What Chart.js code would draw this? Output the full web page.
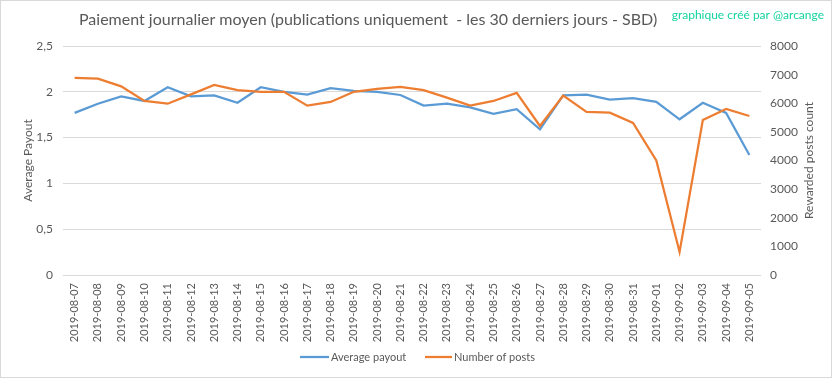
<!DOCTYPE html>
<html><head><meta charset="utf-8">
<script src="https://cdn.jsdelivr.net/npm/chart.js@4.4.0/dist/chart.umd.min.js"></script>
<style>html,body{margin:0;padding:0;background:#fff;}#wrap{position:relative;width:833px;height:379px;}</style>
</head><body><div id="wrap"><canvas id="c" width="833" height="379"></canvas></div>
<script>
const categories = ['2019-08-07','2019-08-08','2019-08-09','2019-08-10','2019-08-11','2019-08-12','2019-08-13','2019-08-14','2019-08-15','2019-08-16','2019-08-17','2019-08-18','2019-08-19','2019-08-20','2019-08-21','2019-08-22','2019-08-23','2019-08-24','2019-08-25','2019-08-26','2019-08-27','2019-08-28','2019-08-29','2019-08-30','2019-08-31','2019-09-01','2019-09-02','2019-09-03','2019-09-04','2019-09-05'];
const averagePayout = [1.77,1.87,1.95,1.90,2.05,1.95,1.96,1.88,2.05,2.00,1.97,2.04,2.01,2.00,1.965,1.85,1.87,1.83,1.76,1.81,1.59,1.96,1.97,1.915,1.93,1.89,1.70,1.88,1.77,1.31];
const numberOfPosts = [6890,6860,6590,6080,5985,6310,6640,6460,6400,6400,5915,6045,6400,6500,6575,6460,6195,5915,6080,6360,5205,6265,5695,5670,5310,4005,805,5415,5800,5555];
const seriesNames = ['Average payout','Number of posts'];
const chartTitle = 'Paiement journalier moyen (publications uniquement  - les 30 derniers jours - SBD)';
const watermark = 'graphique créé par @arcange';
const leftAxisTitle = 'Average Payout';
const rightAxisTitle = 'Rewarded posts count';

const F = 'Lato, "Open Sans", sans-serif';
const TXT = '#595959';
const BLUE = '#5B9BD5', ORANGE = '#ED7D31';

const decor = {
  id: 'decor',
  afterDraw(chart) {
    const ctx = chart.ctx;
    ctx.save();
    ctx.strokeStyle = '#d9d9d9'; ctx.lineWidth = 1;
    ctx.strokeRect(0.5, 0.5, 831, 377);
    ctx.fillStyle = TXT; ctx.font = '16px ' + F; ctx.textBaseline = 'middle'; ctx.textAlign = 'left';
    ctx.fillText(chartTitle, 79, 20);
    ctx.fillStyle = '#14D3A0'; ctx.font = '12px ' + F; ctx.textAlign = 'right';
    ctx.fillText(watermark, 824, 15);
    const ca = chart.chartArea;
    const cy = (ca.top + ca.bottom) / 2;
    ctx.fillStyle = TXT; ctx.font = '12px ' + F; ctx.textAlign = 'center';
    ctx.save(); ctx.translate(28, cy); ctx.rotate(-Math.PI/2); ctx.fillText(leftAxisTitle, 0, 0); ctx.restore();
    ctx.save(); ctx.translate(809, cy); ctx.rotate(-Math.PI/2); ctx.fillText(rightAxisTitle, 0, 0); ctx.restore();
    const items = [[seriesNames[0], BLUE, 300, 329, 331], [seriesNames[1], ORANGE, 425, 452, 454]];
    ctx.font = '11px ' + F; ctx.textAlign = 'left';
    items.forEach(([t, c, x0, x1, tx]) => {
      ctx.strokeStyle = c; ctx.lineWidth = 2.25;
      ctx.beginPath(); ctx.moveTo(x0, 357); ctx.lineTo(x1, 357); ctx.stroke();
      ctx.fillStyle = TXT; ctx.fillText(t, tx, 357);
    });
    ctx.restore();
  }
};

new Chart(document.getElementById('c'), {
  type: 'line',
  data: {
    labels: categories,
    datasets: [
      { label: seriesNames[0], data: averagePayout, yAxisID: 'y', borderColor: BLUE, backgroundColor: BLUE, borderWidth: 2.25, pointRadius: 0, tension: 0, order: 1 },
      { label: seriesNames[1], data: numberOfPosts, yAxisID: 'y1', borderColor: ORANGE, backgroundColor: ORANGE, borderWidth: 2.25, pointRadius: 0, tension: 0, order: 0 }
    ]
  },
  options: {
    responsive: false, animation: false, devicePixelRatio: 1,
    layout: { padding: { top: 46, left: 0, right: 0, bottom: 0 } },
    plugins: { legend: { display: false }, title: { display: false }, tooltip: { enabled: false } },
    scales: {
      x: {
        offset: true,
        grid: { display: false, drawTicks: false }, border: { display: false },
        ticks: { minRotation: 90, maxRotation: 90, autoSkip: false, padding: 8, color: TXT, font: { family: F, size: 11 } },
        afterFit(s) { s.height = 104; }
      },
      y: {
        position: 'left', min: 0, max: 2.5,
        grid: { color: '#d9d9d9', drawTicks: false, lineWidth: 1 }, border: { display: false },
        ticks: { stepSize: 0.5, padding: 10, color: TXT, font: { family: F, size: 12 }, callback: v => String(v).replace('.', ',') },
        afterFit(s) { s.width = 63; }
      },
      y1: {
        position: 'right', min: 0, max: 8000,
        grid: { display: false, drawTicks: false }, border: { display: false },
        ticks: { stepSize: 1000, padding: 9, color: TXT, font: { family: F, size: 12 }, callback: v => String(v) },
        afterFit(s) { s.width = 72; }
      }
    }
  },
  plugins: [decor]
});
</script></body></html>
